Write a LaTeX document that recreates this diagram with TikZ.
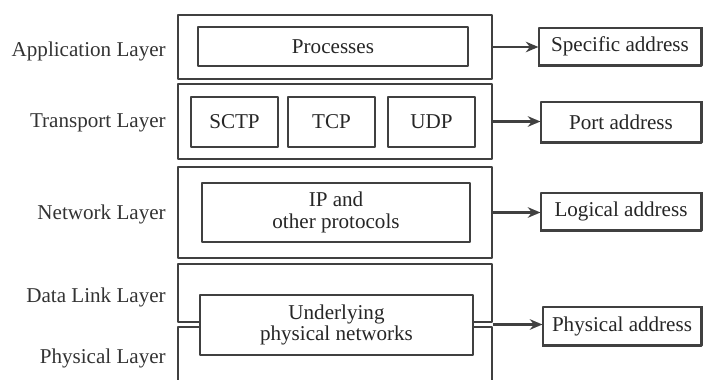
\documentclass[tikz,border=0pt]{standalone}
\usepackage{fontspec}
\setmainfont{Liberation Serif}
\usetikzlibrary{arrows.meta,calc}
\newcommand\layerfont{\fontsize{15}{15.5}\selectfont}

\begin{document}
\begin{tikzpicture}[x=0.025cm, y=-0.025cm, >=Stealth, line join=round]
\tikzset{
  box/.style={draw=black!75, line width=0.8pt, inner sep=0pt},
  sz/.style 2 args={minimum width=#1*0.025cm, minimum height=#2*0.025cm},
  inbox/.style={box, fill=white, align=center, font=\layerfont, text=black!85},
  addr/.style={box, fill=white, font=\layerfont, text=black!85},
  lab/.style={anchor=base east, font=\layerfont, text=black!80, inner sep=0pt},
  arr/.style={-{Stealth[length=9pt,width=7.5pt]}, line width=1.6pt, draw=black!75},
  shade/.style={line width=1.6pt, draw=black!75},
}
\useasboundingbox (0,0) rectangle (703,380);
\clip (0,0) rectangle (703,380);

% layer boxes
\node[box, sz={314}{64}] (app) at (335,47)    {};
\node[box, sz={314}{75}] (trn) at (335,121.5) {};
\node[box, sz={314}{91}] (net) at (335,212.5) {};
\node[box, sz={314}{58}] (dl)  at (335,293)   {};
\node[box, sz={314}{73}] (phy) at (335,363.5) {};

% protocols
\node[inbox, sz={270}{39}] (proc)  at (333,46.5)   {Processes};
\node[inbox, sz={87}{50}]  (sctp)  at (234.5,122)  {SCTP};
\node[inbox, sz={87}{50}]  (tcp)   at (331.5,122)  {TCP};
\node[inbox, sz={87}{50}]  (udp)   at (431.5,122)  {UDP};
\node[inbox, sz={268}{59}] (ip)    at (336,212.5)  {IP and\\other protocols};
\node[inbox, sz={273}{60}] (under) at (336.5,325)  {Underlying\\physical networks};

% addresses
\node[addr, sz={162}{37}] (spec) at (620,46.5)  {Specific address};
\node[addr, sz={160}{40}] (port) at (621,122)   {Port address};
\node[addr, sz={160}{37}] (logi) at (621,211.5) {Logical address};
\node[addr, sz={158}{38}] (phya) at (622,326)   {Physical address};
\foreach \b in {spec,port,logi,phya}
  \draw[shade] (\b.south west) -- (\b.south east) -- (\b.north east);

\draw[arr] (app.east) -- (app.east -| spec.west);
\draw[arr] (trn.east) -- (trn.east -| port.west);
\draw[arr] (net.east) -- (net.east -| logi.west);
\coordinate (dlphy) at ($(dl.south east)!.5!(phy.north east)$);
\draw[arr] (dlphy) -- (dlphy -| phya.west);

% layer names
\node[lab] (lapp) at (166,57)  {Application Layer};
\node[lab] (ltrn) at (166,128) {Transport Layer};
\node[lab] (lnet) at (166,220) {Network Layer};
\node[lab] (ldl)  at (166,302) {Data Link Layer};
\node[lab] (lphy) at (166,363) {Physical Layer};
\end{tikzpicture}
\end{document}
